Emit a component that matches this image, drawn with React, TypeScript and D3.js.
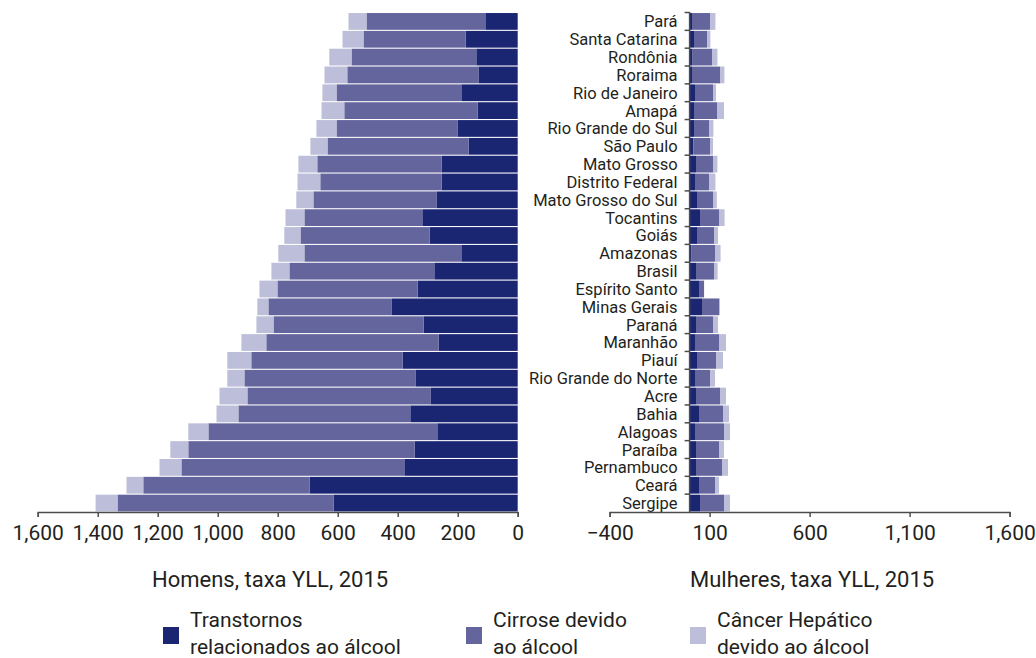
import React, { useEffect, useRef } from "react";
import * as d3 from "d3";

const categories = [
  "Pará", "Santa Catarina", "Rondônia", "Roraima", "Rio de Janeiro", "Amapá",
  "Rio Grande do Sul", "São Paulo", "Mato Grosso", "Distrito Federal",
  "Mato Grosso do Sul", "Tocantins", "Goiás", "Amazonas", "Brasil",
  "Espírito Santo", "Minas Gerais", "Paraná", "Maranhão", "Piauí",
  "Rio Grande do Norte", "Acre", "Bahia", "Alagoas", "Paraíba",
  "Pernambuco", "Ceará", "Sergipe",
];

const menTranstornos = [108, 174, 138, 131, 188, 134, 201, 164, 254, 254, 271, 318, 294, 188, 278, 334, 421, 314, 264, 384, 341, 291, 358, 268, 344, 378, 694, 614];
const menCirrose = [396, 340, 416, 437, 416, 444, 403, 470, 414, 404, 410, 393, 430, 523, 483, 467, 410, 500, 574, 504, 570, 610, 573, 763, 754, 743, 554, 720];
const menCancer = [60, 70, 74, 76, 47, 76, 67, 57, 63, 76, 57, 63, 54, 87, 60, 60, 37, 57, 83, 80, 57, 93, 73, 67, 60, 73, 56, 73];

const womenTranstornos = [12, 22, 15, 12, 27, 22, 22, 19, 32, 27, 37, 52, 37, 10, 32, 47, 62, 32, 27, 37, 27, 32, 47, 27, 32, 32, 47, 52];
const womenCirrose = [90, 65, 97, 140, 90, 115, 77, 83, 85, 70, 80, 95, 85, 117, 90, 25, 85, 85, 120, 95, 75, 120, 120, 145, 115, 130, 80, 120];
const womenCancer = [27, 17, 27, 22, 15, 35, 20, 15, 22, 32, 19, 28, 20, 28, 18, 1, 5, 25, 35, 35, 25, 30, 30, 30, 25, 30, 20, 30];

const menTicks = [0, 200, 400, 600, 800, 1000, 1200, 1400, 1600];
const womenTicks = [-400, 100, 600, 1100, 1600];

const seriesKeys = ["transtornos", "cirrose", "cancer"];
const seriesColors = ["#1b2673", "#65659e", "#bdbed9"];
const legendLines = [
  ["Transtornos", "relacionados ao álcool"],
  ["Cirrose devido", "ao álcool"],
  ["Câncer Hepático", "devido ao álcool"],
];
const titles = ["Homens, taxa YLL, 2015", "Mulheres, taxa YLL, 2015"];

const W = 1036;
const H = 658;
const FONT = "Roboto, 'Noto Sans', sans-serif";
const TEXT = "#231f20";
const AXIS = "#4d4d4d";

const menRows = categories.map((c, i) => ({
  name: c,
  transtornos: menTranstornos[i],
  cirrose: menCirrose[i],
  cancer: menCancer[i],
}));
const womenRows = categories.map((c, i) => ({
  name: c,
  transtornos: womenTranstornos[i],
  cirrose: womenCirrose[i],
  cancer: womenCancer[i],
}));

export default function App() {
  const menAxisRef = useRef<SVGGElement>(null);
  const womenAxisRef = useRef<SVGGElement>(null);

  const y = d3.scaleBand<string>().domain(categories).range([12.5, 512]).paddingInner(0.06).paddingOuter(0.03);
  const xL = d3.scaleLinear().domain([0, 1600]).range([517.7, 37.7]);
  const xR = d3.scaleLinear().domain([-400, 1600]).range([609.6, 1009.6]);

  const stack = d3.stack<any>().keys(seriesKeys);
  const menStack = stack(menRows);
  const womenStack = stack(womenRows);

  const axisY = 512;

  useEffect(() => {
    const style = (g: d3.Selection<SVGGElement, unknown, null, undefined>) => {
      g.selectAll("path").attr("stroke", AXIS).attr("stroke-width", 1.3);
      g.selectAll("line").attr("stroke", AXIS).attr("stroke-width", 1.5);
      g.selectAll("text")
        .attr("fill", TEXT)
        .style("font-family", FONT)
        .style("font-size", "21px");
    };
    if (menAxisRef.current) {
      const g = d3.select(menAxisRef.current);
      g.selectAll("*").remove();
      g.call(
        d3.axisBottom(xL).tickValues(menTicks).tickSize(5).tickSizeOuter(5).tickPadding(8).tickFormat(d3.format(",") as any)
      );
      style(g);
    }
    if (womenAxisRef.current) {
      const g = d3.select(womenAxisRef.current);
      g.selectAll("*").remove();
      g.call(
        d3.axisBottom(xR).tickValues(womenTicks).tickSize(5).tickSizeOuter(5).tickPadding(8).tickFormat(d3.format(",") as any)
      );
      style(g);
    }
  }, []);

  const step = y.step();
  const tickOffset = (step * 0.06) / 2;

  return (
    <svg width={W} height={H} style={{ position: "absolute", left: 0, top: 0, background: "#fff" }} fontFamily={FONT}>
      {/* Men bars */}
      <g>
        {menStack.map((s, si) => (
          <g key={"m" + si} fill={seriesColors[si]}>
            {s.map((d: any) => (
              <rect
                key={d.data.name}
                x={xL(d[1])}
                y={y(d.data.name)}
                width={xL(d[0]) - xL(d[1])}
                height={y.bandwidth()}
              />
            ))}
          </g>
        ))}
      </g>
      {/* Women bars */}
      <g>
        {womenStack.map((s, si) => (
          <g key={"w" + si} fill={seriesColors[si]}>
            {s.map((d: any) => (
              <rect
                key={d.data.name}
                x={xR(d[0])}
                y={y(d.data.name)}
                width={Math.max(0, xR(d[1]) - xR(d[0]))}
                height={y.bandwidth()}
              />
            ))}
          </g>
        ))}
      </g>
      {/* Women category axis */}
      <g>
        <line x1={xR(0)} x2={xR(0)} y1={(y(categories[0]) as number) - tickOffset - 0.5} y2={axisY} stroke={AXIS} strokeWidth={1.5} />
        {categories.map((c) => (
          <g key={c}>
            <line
              x1={xR(0) - 5}
              x2={xR(0)}
              y1={(y(c) as number) - tickOffset}
              y2={(y(c) as number) - tickOffset}
              stroke={AXIS}
              strokeWidth={1.5}
            />
            <text
              x={xR(0) - 12}
              y={(y(c) as number) + y.bandwidth() / 2}
              dy="0.36em"
              textAnchor="end"
              fontSize={16.5}
              fill={TEXT}
            >
              {c}
            </text>
          </g>
        ))}
      </g>
      {/* Bottom axes */}
      <g ref={menAxisRef} transform={`translate(0,${axisY})`} />
      <g ref={womenAxisRef} transform={`translate(0,${axisY})`} />
      {/* Titles */}
      <text x={152} y={587} fontSize={22} fill={TEXT}>{titles[0]}</text>
      <text x={690} y={587} fontSize={22} fill={TEXT}>{titles[1]}</text>
      {/* Legend */}
      {[163, 466, 690].map((lx, i) => (
        <g key={"lg" + i}>
          <rect x={lx} y={627} width={16} height={17} fill={seriesColors[i]} />
          <text x={lx + 27} y={627} fontSize={21} fill={TEXT}>{legendLines[i][0]}</text>
          <text x={lx + 27} y={654} fontSize={21} fill={TEXT}>{legendLines[i][1]}</text>
        </g>
      ))}
    </svg>
  );
}
